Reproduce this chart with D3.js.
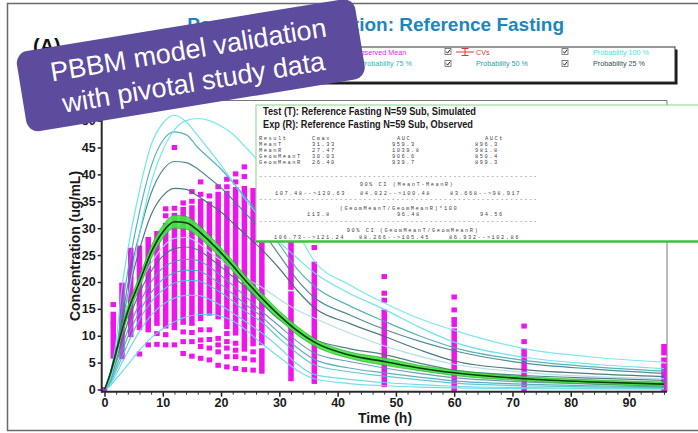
<!DOCTYPE html>
<html><head><meta charset="utf-8">
<script src="https://cdn.jsdelivr.net/npm/d3@7"></script>
<style>
body{margin:0;background:#fff;}
svg{display:block;font-family:Arial,"Liberation Sans",sans-serif;}
</style>
</head><body>
<svg id="c" width="698" height="433"></svg>
<script>
// ---------- data ----------
const titleText = "Population Simulation: Reference Fasting";
const xTickValues = [0,10,20,30,40,50,60,70,80,90];
const yTickValues = [0,5,10,15,20,25,30,35,40,45,50];

// simulated time grid (h) and percentile / mean curves (ug/mL)
const timeGrid = [0,1,2,3,4,6,8,10,12,14,16,18,20,22,24,27,30,33,36,42,48,54,60,72,84,96];
const curveA = [0,3,9,19,26,37,45.5,49.5,51,49.8,47.2,44.5,41.7,38.6,35.6,31.5,27.5,24.5,21.7,17.9,14.9,11.6,8.8,6.0,4.7,3.9];
const curveB = [0,2,6,11,17,29,38.5,44.5,48.3,50,50.4,50,49,47.5,45.3,41.5,35,29.5,23.9,19.5,16.1,13.2,11.0,7.6,6.0,5.1];
const curveC = [0,2.5,7,15,22,33,41.5,46.3,47.9,47.4,45,43,41,38.5,36,32,27,22.5,19.2,15.6,12.7,10,7.8,5.4,4.2,3.4];
const curveD = [0,2.5,6.5,13,19.5,29,36.5,40.8,42.4,42.2,41,39.3,37.5,35.3,33,29.5,25,20.5,17.1,13.9,11.2,9.0,7.2,4.9,3.8,3.0];
const curveE = [0,2.5,6.5,12,17.5,26,32.5,36,37.4,37.2,36,34.5,33,31,29,26,22.5,18.5,15.2,12.3,9.9,7.4,5.3,3.7,2.9,2.4];
const curveF = [0,2.5,6.5,10.5,14,19.5,23.5,26.5,28.1,28.3,27.3,25.6,24,22.3,20.8,19,16.8,14.8,13.3,10.5,8.1,6.2,4.7,3.2,2.4,2.0];
const curveG = [0,2,5.5,9,12.5,18,22,24.8,26.2,26.5,26,24.5,22.8,21,19.2,16,13,11.0,9.3,7.6,6.5,4.9,3.6,2.6,2.1,1.7];
const curveH = [0,1.8,5,8,11,16,20,22.6,23.8,24.2,24,22.8,21.2,19.4,17.5,14.5,11.8,9.0,6.8,5.2,4.0,3.0,2.2,1.4,1.0,0.7];
const curveI = [0,1.5,4.2,7,9.8,14.5,18,20.5,21.7,22.2,22.1,21,19.5,17.8,16,13.5,10.5,7.8,5.6,4.0,3.1,2.3,1.6,1.0,0.7,0.5];
const curveJ = [0,1.2,3.5,6,8.5,13,16.3,18.5,19.8,20.3,20.2,19.3,18,16.4,14.7,12.5,9.5,6.8,4.6,3.3,2.5,1.8,1.2,0.7,0.5,0.35];
const curveK = [0,1.0,2.8,5,7,10.8,13.8,15.8,17,17.5,17.5,16.8,15.6,14.2,12.8,10.5,7.8,4.8,2.8,1.9,1.3,0.9,0.6,0.35,0.25,0.2];
const curveL = [0,0.7,2,3.3,4.6,7.3,9.6,11.3,12.6,13.5,13.9,14.0,13.6,12.8,11.3,8.5,6.0,3.6,2.0,1.1,0.7,0.45,0.3,0.15,0.1,0.08];
const meanCurve = [0,3,7,11,14.5,20,25.5,29.3,31.2,31.0,29.6,27.6,25.4,23,20.5,17,13.8,11,8.8,6.4,5.2,4.0,3.1,2.0,1.4,1.0];
const bandHigh = [0,3.3,7.6,11.8,15.5,21.1,26.7,30.5,32.4,32.2,30.7,28.7,26.4,24,21.4,17.9,14.6,11.8,9.5,7.0,5.9,4.5,3.6,2.4,1.8,1.4];
const bandLow  = [0,2.7,6.4,10.2,13.5,18.9,24.3,28.1,30.0,29.8,28.5,26.5,24.4,22,19.6,16.1,13.0,10.2,8.1,5.8,4.5,3.5,2.6,1.6,1.0,0.6];

// observed: sampling times and per-time values (number = single subject, [lo,hi] = dense stack of subjects)
const obsTimes = [0,1.5,3,4.5,6,7.5,9,10.5,12,13.5,15,16.5,18,19.5,21,22.5,24,25.5,27,32,36,48,60,72,96];
const obsValues = [
  [0],
  [15.8,[12.6,14.0],[6.2,12.0]],
  [[16.5,19.4],[6.1,15.8]],
  [[21,25.9],[10.2,20.4]],
  [[11.5,26.3],6.6],
  [[11.1,27.9],8.3],
  [[12.3,29],10.4,8.4],
  [33.6,32.3,[11.8,30.5],10.2,8.3],
  [45.0,33.7,32.4,[11.5,31.5],8.3],
  [34.7,[12.5,33.5],10.7,8.9,6.7],
  [36.8,35.0,[12.3,33.8],10.6,8.9,6.2],
  [38.6,36.3,[13.2,35.0],11.1,9.2,8.0,5.8],
  [36,[14.2,34.5],11.1,9.3,7.7,5.5],
  [37.7,[13.5,36.3],9.5,8.3,7.0,4.5],
  [39.1,37.7,[11.7,36.5],10.4,8.9,7.7,6.1,4.2],
  [40.1,38.6,[10.5,37.2],8.6,7.3,6.1,3.9],
  [41.4,39.6,[20,37.4],[7.5,19],5.8,3.7],
  [[8.5,37],7.0,5.5,3.6],
  [[18.2,34],[8.7,17.4],[3.4,7.2]],
  [[19,30],[2.0,17.8]],
  [26.4,[16.5,23.3],[1.5,15.8]],
  [21.0,17.9,16.6,[0.9,14.4]],
  [17.2,14.8,13.0,12.1,[0,10.9]],
  [11.8,8.9,[0,7.2]],
  [[6.8,8.0],5.5,[0,4.4]]
];

// legend and statistics text
const legendRow1 = ["Observed Mean","CVs","Probability 100 %"];
const legendRow2 = ["Probability 75 %","Probability 50 %","Probability 25 %"];
const statsHeader = ["Test (T): Reference Fasting N=59 Sub, Simulated","Exp (R): Reference Fasting N=59 Sub, Observed"];
const statsColumns = ["Result","Cmax","AUC","AUCt"];
const statsRows = [
  ["MeanT","31.33","959.3","896.3"],
  ["MeanR","27.47","1039.8","981.8"],
  ["GeomMeanT","30.03","906.6","850.4"],
  ["GeomMeanR","26.40","939.7","899.3"]
];
const ciMeanLabel = "90% CI (MeanT-MeanR)";
const ciMeanValues = ["107.48-->120.63","84.022-->100.48","83.668-->98.917"];
const ratioLabel = "(GeomMeanT/GeomMeanR)*100";
const ratioValues = ["113.8","96.48","94.56"];
const ciGeoLabel = "90% CI (GeomMeanT/GeomMeanR)";
const ciGeoValues = ["106.73-->121.24","88.266-->105.45","86.932-->102.86"];
const bannerLines = ["PBBM model validation","with pivotal study data"];

// ---------- drawing ----------
const svg = d3.select('#c');
svg.append('rect').attr('width',698).attr('height',433).attr('fill','#fff');
svg.append('rect').attr('x',7.5).attr('y',3.5).attr('width',720).attr('height',427)
  .attr('fill','#fff').attr('stroke','#6a6a6a').attr('stroke-width',1.5);

svg.append('text').attr('x',564).attr('y',31).attr('text-anchor','end')
  .attr('font-size',19).attr('font-weight','bold').attr('fill','#1d86bf').text(titleText);
svg.append('text').attr('x',33).attr('y',53).attr('font-size',20).attr('font-weight','bold')
  .attr('fill','#111').text('(A)');

// legend box
svg.append('rect').attr('x',152.5).attr('y',49.5).attr('width',525).attr('height',35).attr('fill','#1a1a1a');
svg.append('rect').attr('x',150).attr('y',47).attr('width',525).attr('height',35)
  .attr('fill','#fff').attr('stroke','#333').attr('stroke-width',1);
function checkbox(x,y){
  const g = svg.append('g').attr('transform',`translate(${x},${y})`);
  g.append('rect').attr('width',6).attr('height',6).attr('fill','#fff').attr('stroke','#666').attr('stroke-width',0.8);
  g.append('path').attr('d','M1.2,3 L2.6,4.7 L5,1.2').attr('fill','none').attr('stroke','#222').attr('stroke-width',1);
}
[[445,48.5],[562,48.5],[445,60.5],[562,60.5]].forEach(p=>checkbox(p[0],p[1]));
const lf = 7.2;
svg.append('text').attr('x',355).attr('y',54.5).attr('font-size',lf).attr('fill','#e21de2').text(legendRow1[0]);
svg.append('text').attr('x',476).attr('y',54.5).attr('font-size',lf).attr('fill','#e03535').text(legendRow1[1]);
svg.append('text').attr('x',593).attr('y',54.5).attr('font-size',lf).attr('fill','#3fe2e8').text(legendRow1[2]);
svg.append('text').attr('x',412).attr('y',66).attr('text-anchor','end').attr('font-size',lf).attr('fill','#2fb5b8').text(legendRow2[0]);
svg.append('text').attr('x',476).attr('y',66).attr('font-size',lf).attr('fill','#2a9ea0').text(legendRow2[1]);
svg.append('text').attr('x',593).attr('y',66).attr('font-size',lf).attr('fill','#2f5252').text(legendRow2[2]);
const cv = svg.append('g').attr('stroke','#e03535').attr('stroke-width',1);
cv.append('line').attr('x1',456).attr('x2',474).attr('y1',52).attr('y2',52);
cv.append('line').attr('x1',465).attr('x2',465).attr('y1',48.5).attr('y2',55.5);
cv.append('line').attr('x1',461.5).attr('x2',468.5).attr('y1',48.5).attr('y2',48.5);
cv.append('line').attr('x1',461.5).attr('x2',468.5).attr('y1',55.5).attr('y2',55.5);

// scales
const x = d3.scaleLinear().domain([0,96.5]).range([104.5,666.9]);
const y = d3.scaleLinear().domain([0,53.8]).range([389.5,100.2]);

// plot frame (top & right)
svg.append('path').attr('d',`M101.7,100.5 H667 V391.7`).attr('fill','none').attr('stroke','#777').attr('stroke-width',1);

// observed squares
const sq = svg.append('g').attr('fill','#ee14ee');
obsTimes.forEach((t,i)=>{
  obsValues[i].forEach(v=>{
    if (Array.isArray(v)) {
      sq.append('rect').attr('x',x(t)-2.75).attr('y',y(v[1])-2.5)
        .attr('width',5.5).attr('height',y(v[0])-y(v[1])+5);
    } else {
      sq.append('rect').attr('x',x(t)-2.75).attr('y',y(v)-2.5).attr('width',5.5).attr('height',5);
    }
  });
});

// simulated curves
const line = d3.line().x((d,i)=>x(timeGrid[i])).y(d=>y(d)).curve(d3.curveMonotoneX);
const curves = [
  [curveL,'#5fdde6'],[curveK,'#62d6e0'],[curveJ,'#4fc2cc'],[curveI,'#4aa7b2'],[curveH,'#5b93b8'],
  [curveG,'#3f7377'],[curveF,'#a9dbe6'],[curveE,'#3a6c70'],[curveD,'#3f8288'],[curveC,'#45aab2'],
  [curveA,'#5fe0e8'],[curveB,'#6be6ec']
];
const cg = svg.append('g').attr('fill','none').attr('stroke-width',1.2).attr('stroke-opacity',0.9);
curves.forEach(c=>cg.append('path').attr('d',line(c[0])).attr('stroke',c[1]));

// mean band + mean line
const area = d3.area().x((d,i)=>x(timeGrid[i])).y0((d,i)=>y(bandLow[i])).y1((d,i)=>y(bandHigh[i])).curve(d3.curveMonotoneX);
svg.append('path').attr('d',area(timeGrid)).attr('fill','#3fe63f').attr('fill-opacity',0.9)
  .attr('stroke','#23a523').attr('stroke-width',0.6);
svg.append('path').attr('d',line(meanCurve)).attr('fill','none').attr('stroke','#0d3a12').attr('stroke-width',1.6);

// axes
const xAxisY = 391.7;
const xMinor = d3.range(0,97,2).filter(v=>v%10!==0);
svg.append('g').attr('transform',`translate(0,${xAxisY})`)
  .call(d3.axisBottom(x).tickValues(xMinor).tickSize(3).tickFormat('').tickSizeOuter(0))
  .call(g=>g.select('.domain').remove())
  .call(g=>g.selectAll('line').attr('stroke','#333'));
svg.append('g').attr('transform',`translate(0,${xAxisY})`)
  .call(d3.axisBottom(x).tickValues(xTickValues).tickSize(5).tickPadding(1).tickSizeOuter(0))
  .call(g=>g.select('.domain').remove())
  .call(g=>g.selectAll('line').attr('stroke','#222').attr('stroke-width',1.5))
  .call(g=>g.selectAll('text').attr('font-size',12.5).attr('font-weight','bold').attr('fill','#1a1a1a')
    .attr('font-family','Arial, "Liberation Sans", sans-serif'));
svg.append('line').attr('x1',101).attr('x2',667).attr('y1',xAxisY).attr('y2',xAxisY)
  .attr('stroke','#2a2a2a').attr('stroke-width',2);

const yAxisX = 101.7;
svg.append('g').attr('transform',`translate(${yAxisX},0)`)
  .call(d3.axisLeft(y).tickValues(yTickValues).tickSize(4).tickPadding(2).tickSizeOuter(0))
  .call(g=>g.select('.domain').remove())
  .call(g=>g.selectAll('line').attr('stroke','#222').attr('stroke-width',1.5))
  .call(g=>g.selectAll('text').attr('font-size',12.5).attr('font-weight','bold').attr('fill','#1a1a1a')
    .attr('font-family','Arial, "Liberation Sans", sans-serif'));
svg.append('line').attr('x1',yAxisX).attr('x2',yAxisX).attr('y1',100).attr('y2',392.5)
  .attr('stroke','#2a2a2a').attr('stroke-width',2);

svg.append('text').attr('x',385).attr('y',423).attr('text-anchor','middle')
  .attr('font-size',14).attr('font-weight','bold').attr('fill','#1a1a1a').text('Time (h)');
svg.append('text').attr('transform','translate(80,246) rotate(-90)').attr('text-anchor','middle')
  .attr('font-size',14).attr('font-weight','bold').attr('fill','#1a1a1a').text('Concentration (ug/mL)');

// statistics box
svg.append('rect').attr('x',256).attr('y',105).attr('width',460).attr('height',136.5)
  .attr('fill','#fff').attr('stroke','#8ad48a').attr('stroke-width',1);
svg.append('line').attr('x1',256).attr('x2',700).attr('y1',241.5).attr('y2',241.5)
  .attr('stroke','#38c438').attr('stroke-width',2.5);
svg.append('text').attr('x',263).attr('y',115).attr('font-size',10).attr('font-weight','bold').attr('fill','#1a1a1a')
  .attr('textLength',213).attr('lengthAdjust','spacingAndGlyphs').text(statsHeader[0]);
svg.append('text').attr('x',263).attr('y',127.5).attr('font-size',10).attr('font-weight','bold').attr('fill','#1a1a1a')
  .attr('textLength',210).attr('lengthAdjust','spacingAndGlyphs').text(statsHeader[1]);

// monospace result table: small glyphs, widened advance to match the source's column pitch
const mono = svg.append('g').attr('font-family','"Liberation Mono","DejaVu Sans Mono",monospace')
  .attr('font-size',5.4).attr('letter-spacing',1.5).attr('fill','#444').style('white-space','pre');
const headX = [259,312,397,485];
const valX = [259,312,392,475];
const rowY = [140.2,146.2,152.2,158.2,164.2];
statsColumns.forEach((s,i)=>mono.append('text').attr('x',headX[i]).attr('y',rowY[0]).text(s));
statsRows.forEach((r,j)=>r.forEach((s,i)=>mono.append('text').attr('x',valX[i]).attr('y',rowY[j+1]).text(s)));
const dashes = '-'.repeat(59);
[178.3,200.7,223.3].forEach(yy=>mono.append('text').attr('x',259).attr('y',yy).text(dashes));
mono.append('text').attr('x',407).attr('y',186.3).attr('text-anchor','middle').text(ciMeanLabel);
const ciX = [275,360,450];
ciMeanValues.forEach((s,i)=>mono.append('text').attr('x',ciX[i]).attr('y',194.8).text(s));
mono.append('text').attr('x',399).attr('y',209.8).attr('text-anchor','middle').text(ratioLabel);
[307,397,480].forEach((xx,i)=>mono.append('text').attr('x',xx).attr('y',216.4).text(ratioValues[i]));
mono.append('text').attr('x',413).attr('y',232).attr('text-anchor','middle').text(ciGeoLabel);
ciGeoValues.forEach((s,i)=>mono.append('text').attr('x',ciX[i]-1).attr('y',239).text(s));

// banner overlay
const bn = svg.append('g').attr('transform','translate(15,53) rotate(-9.3)');
bn.append('rect').attr('width',343).attr('height',81).attr('rx',12).attr('fill','#5d4b9e');
bannerLines.forEach((s,i)=>bn.append('text').attr('x',171.5).attr('y',34+i*33).attr('text-anchor','middle')
  .attr('font-size',27).attr('fill','#fff').text(s));
</script>
</body></html>
